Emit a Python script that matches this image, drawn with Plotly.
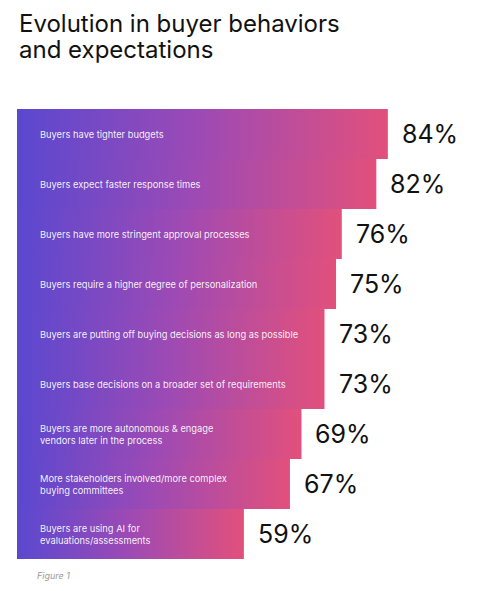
import plotly.graph_objects as go

# values
behaviors = [
    "Buyers have tighter budgets",
    "Buyers expect faster response times",
    "Buyers have more stringent approval processes",
    "Buyers require a higher degree of personalization",
    "Buyers are putting off buying decisions as long as possible",
    "Buyers base decisions on a broader set of requirements",
    "Buyers are more autonomous & engage<br>vendors later in the process",
    "More stakeholders involved/more complex<br>buying committees",
    "Buyers are using AI for<br>evaluations/assessments",
]
shares = [84, 82, 76, 75, 73, 73, 69, 67, 59]
title_lines = ["Evolution in buyer behaviors", "and expectations"]

X_START = 19.6
FONT = "Inter, Roboto, sans-serif"

fig = go.Figure()

for i, (label, v) in enumerate(zip(behaviors, shares)):
    # one bar per row, filled with a purple -> pink gradient
    fig.add_trace(go.Scatter(
        x=[0, v, v, 0, 0],
        y=[i - 0.5, i - 0.5, i + 0.5, i + 0.5, i - 0.5],
        mode="lines",
        line=dict(width=0),
        fill="toself",
        fillgradient=dict(
            type="horizontal",
            start=X_START,
            stop=v,
            colorscale=[[0, "#5A48D0"], [0.5, "#9E4AB4"], [1, "#E2507C"]],
        ),
        hoverinfo="skip",
        showlegend=False,
    ))
    fig.add_annotation(
        x=X_START, y=i, xref="x", yref="y",
        text=label, showarrow=False,
        xanchor="left", yanchor="middle", align="left", xshift=21,
        font=dict(family=FONT, size=9.3, color="rgba(255,255,255,0.93)"),
    )
    fig.add_annotation(
        x=v, y=i, xref="x", yref="y",
        text=f"{v}%", showarrow=False,
        xanchor="left", yanchor="middle", xshift=12,
        font=dict(family=FONT, size=25, color="#111111"),
    )

# title as two lines, tighter than plotly's default line height
for k, line in enumerate(title_lines):
    fig.add_annotation(
        x=0, y=1, xref="paper", yref="paper",
        xshift=0, yshift=102 - 26 * k,
        text=line, showarrow=False, xanchor="left", yanchor="top",
        font=dict(family=FONT, size=24, color="#111111"),
    )
fig.add_annotation(
    x=0, y=0, xref="paper", yref="paper",
    xshift=18, yshift=-16,
    text="<i>Figure 1</i>", showarrow=False,
    xanchor="left", yanchor="middle",
    font=dict(family=FONT, size=9, color="#9a9a9a"),
)

# page body keeps an 8px margin, so the figure is 8px smaller and shifted
fig.update_layout(
    width=474,
    height=583,
    margin=dict(l=9, r=2, t=101, b=32),
    paper_bgcolor="white",
    plot_bgcolor="white",
)

fig.update_xaxes(range=[X_START, 100], visible=False, fixedrange=True)
fig.update_yaxes(range=[8.5, -0.5], visible=False, fixedrange=True)

fig.write_html("out.html")
